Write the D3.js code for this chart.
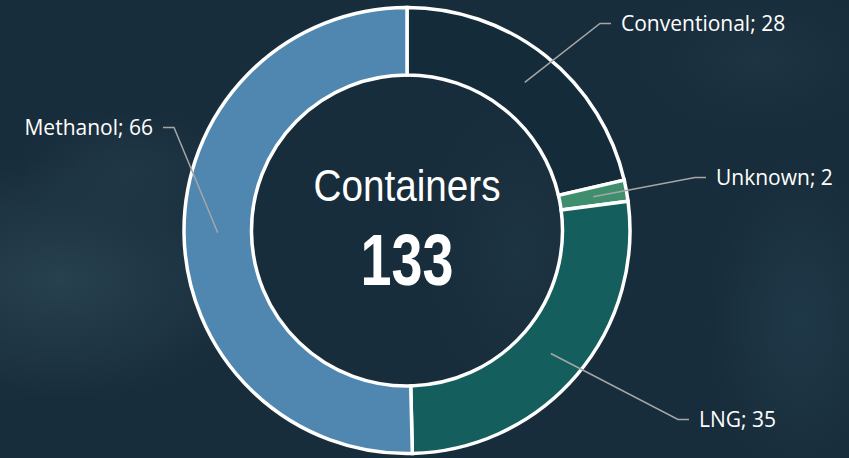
<!DOCTYPE html>
<html>
<head>
<meta charset="utf-8">
<script src="https://cdn.jsdelivr.net/npm/d3@7"></script>
<style>
  html, body { margin: 0; padding: 0; background: #182d3b; }
  svg { display: block; }
</style>
</head>
<body>
<svg id="chart" width="849" height="458"></svg>
<script>
// ---- data ----
const categories = ["Conventional", "Unknown", "LNG", "Methanol"];
const values = [28, 2, 35, 66];
const colors = ["#142b39", "#3f8f6e", "#155e5e", "#4f87b0"];
const centerTitle = "Containers";
const centerTotal = "133";
// label elbow offsets relative to the donut centre (layout only)
const labelElbows = [[193, -207], [288, -53], [271, 189], [-233, -103]];
const labelSide = [1, 1, 1, -1];

// ---- layout ----
const W = 849, H = 458;
const cx = 407, cy = 230.5;
const rOuter = 223, rInner = 155.5;

const svg = d3.select("#chart");
const defs = svg.append("defs");

// background
const bg = svg.append("g");
bg.append("rect").attr("width", W).attr("height", H).attr("fill", "#182d3b");
const blobs = [
  {x: 60, y: 280, rx: 200, ry: 120, c: "#2d4856", o: 0.75},
  {x: 130, y: 170, rx: 110, ry: 60, c: "#27414f", o: 0.55},
  {x: 800, y: 320, rx: 90, ry: 160, c: "#244050", o: 0.6},
  {x: 760, y: 60, rx: 120, ry: 70, c: "#223a48", o: 0.5},
  {x: 520, y: 250, rx: 90, ry: 150, c: "#213a48", o: 0.5}
];
blobs.forEach((b, i) => {
  const gr = defs.append("radialGradient").attr("id", "blob" + i);
  gr.append("stop").attr("offset", "0%").attr("stop-color", b.c).attr("stop-opacity", b.o);
  gr.append("stop").attr("offset", "100%").attr("stop-color", b.c).attr("stop-opacity", 0);
  bg.append("ellipse").attr("cx", b.x).attr("cy", b.y).attr("rx", b.rx).attr("ry", b.ry)
    .attr("fill", `url(#blob${i})`);
});

const g = svg.append("g").attr("transform", `translate(${cx},${cy})`);

const data = categories.map((c, i) => ({name: c, value: values[i], color: colors[i]}));
const pie = d3.pie().sort(null).value(d => d.value);
const arcs = pie(data);
const arc = d3.arc().innerRadius(rInner).outerRadius(rOuter);
const midArc = d3.arc().innerRadius((rInner + rOuter) / 2).outerRadius((rInner + rOuter) / 2);

g.selectAll("path.slice").data(arcs).join("path")
  .attr("class", "slice")
  .attr("d", arc)
  .attr("fill", d => d.data.color)
  .attr("stroke", "#ffffff")
  .attr("stroke-width", 3.5)
  .attr("stroke-linejoin", "miter");

// leader lines
const lbl = g.append("g");
arcs.forEach((d, i) => {
  const [sx, sy] = midArc.centroid(d);
  const [ex, ey] = labelElbows[i];
  const side = labelSide[i];
  const hx = ex + side * 11;
  lbl.append("polyline")
    .attr("points", `${sx},${sy} ${ex},${ey} ${hx},${ey}`)
    .attr("fill", "none")
    .attr("stroke", "#a6a6a6")
    .attr("stroke-width", 1.5);
  lbl.append("text")
    .attr("x", hx + side * 10)
    .attr("y", ey)
    .attr("dy", "0.36em")
    .attr("text-anchor", side > 0 ? "start" : "end")
    .attr("fill", "#ffffff")
    .attr("font-family", "'Open Sans', 'Noto Sans', sans-serif")
    .attr("font-size", 21)
    .text(`${d.data.name}; ${d.data.value}`);
});

// centre text
g.append("text")
  .attr("x", 0).attr("y", -29.5)
  .attr("text-anchor", "middle")
  .attr("fill", "#ffffff")
  .attr("font-family", "'Liberation Sans', Arial, sans-serif")
  .attr("font-size", 44)
  .attr("textLength", 187)
  .attr("lengthAdjust", "spacingAndGlyphs")
  .text(centerTitle);

g.append("text")
  .attr("x", 0).attr("y", 54.5)
  .attr("text-anchor", "middle")
  .attr("fill", "#ffffff")
  .attr("font-family", "'Liberation Sans', Arial, sans-serif")
  .attr("font-weight", "bold")
  .attr("font-size", 72)
  .attr("textLength", 93)
  .attr("lengthAdjust", "spacingAndGlyphs")
  .text(centerTotal);
</script>
</body>
</html>
